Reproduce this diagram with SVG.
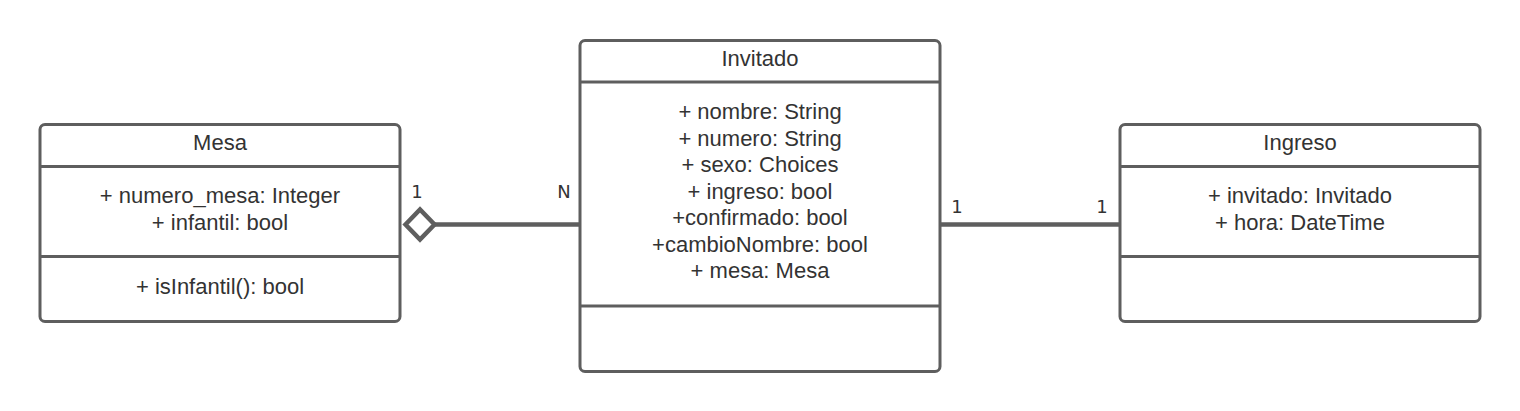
<svg xmlns="http://www.w3.org/2000/svg" width="1520" height="411" viewBox="0 0 1520 411">
<style>
.box{fill:#ffffff;stroke:#5e5e5e;stroke-width:3}
.sep{stroke:#5e5e5e;stroke-width:3}
.t{font-family:"Liberation Sans",Arial,sans-serif;font-size:22px;fill:#333333;text-anchor:middle}
.lbl{font-family:"DejaVu Sans",sans-serif;font-size:18px;fill:#333333;text-anchor:middle}
.conn{stroke:#5e5e5e;stroke-width:4.5;fill:none}
</style>
<rect width="1520" height="411" fill="#ffffff"/>
<g id="Mesa">
<rect class="box" x="40" y="124.5" width="360" height="197" rx="5"/>
<line class="sep" x1="40" y1="166.5" x2="400" y2="166.5"/>
<line class="sep" x1="40" y1="256.5" x2="400" y2="256.5"/>
<text class="t" x="220" y="150">Mesa</text>
<text class="t" x="220" y="203">+ numero_mesa: Integer</text>
<text class="t" x="220" y="229.5">+ infantil: bool</text>
<text class="t" x="220" y="294">+ isInfantil(): bool</text>
</g>
<g id="Invitado">
<rect class="box" x="580" y="40.5" width="360" height="331" rx="5"/>
<line class="sep" x1="580" y1="82" x2="940" y2="82"/>
<line class="sep" x1="580" y1="306" x2="940" y2="306"/>
<text class="t" x="760" y="65.5">Invitado</text>
<text class="t" x="760" y="119">+ nombre: String</text>
<text class="t" x="760" y="145.5">+ numero: String</text>
<text class="t" x="760" y="172">+ sexo: Choices</text>
<text class="t" x="760" y="198.5">+ ingreso: bool</text>
<text class="t" x="760" y="225">+confirmado: bool</text>
<text class="t" x="760" y="251.5">+cambioNombre: bool</text>
<text class="t" x="760" y="278">+ mesa: Mesa</text>
</g>
<g id="Ingreso">
<rect class="box" x="1120" y="124.5" width="360" height="197" rx="5"/>
<line class="sep" x1="1120" y1="166.5" x2="1480" y2="166.5"/>
<line class="sep" x1="1120" y1="256.5" x2="1480" y2="256.5"/>
<text class="t" x="1300" y="150">Ingreso</text>
<text class="t" x="1300" y="203">+ invitado: Invitado</text>
<text class="t" x="1300" y="229.5">+ hora: DateTime</text>
</g>
<g id="connectors">
<line class="conn" x1="434" y1="224.5" x2="579" y2="224.5"/>
<polygon class="conn" points="405.5,224.5 420,209.5 434.5,224.5 420,239.5"/>
<line class="conn" x1="941" y1="224.5" x2="1119" y2="224.5"/>
<text class="lbl" x="417" y="198">1</text>
<text class="lbl" x="564" y="198">N</text>
<text class="lbl" x="957" y="213">1</text>
<text class="lbl" x="1102" y="213">1</text>
</g>
</svg>
